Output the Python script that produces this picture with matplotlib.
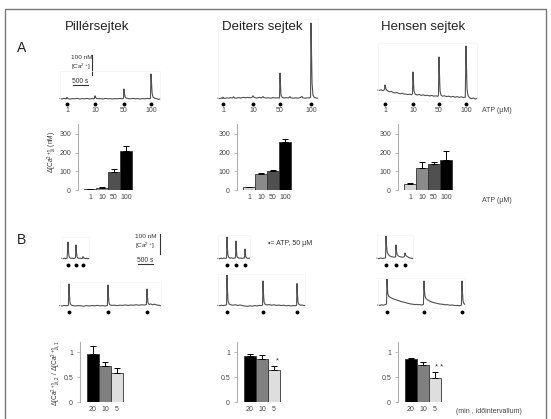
import numpy as np
import matplotlib
matplotlib.use("Agg")
import matplotlib.pyplot as plt

plt.rcParams['font.family'] = ['Liberation Sans', 'DejaVu Sans']
plt.rcParams['mathtext.fontset'] = 'custom'
plt.rcParams['mathtext.rm'] = 'Liberation Sans'
plt.rcParams['mathtext.it'] = 'Liberation Sans:italic'
plt.rcParams['mathtext.bf'] = 'Liberation Sans:bold'

W, H = 551, 419
PX_S = 0.03    # pixels per second in the traces
PX_NM = 0.2    # pixels per nM in the traces

CELLS = ['Pillérsejtek', 'Deiters sejtek', 'Hensen sejtek']
ATP_LABELS = ['1', '10', '50', '100']
INTERVALS = ['20', '10', '5']

# --- A: ATP dose traces (time s, d[Ca] nM) ---
A_PILLER_STIM = [233, 1167, 2133, 3033]
A_PILLER_TRACE = [(0, 2), (60, 0), (120, 3), (180, 1), (215, 2), (233, 8), (250, 4), (280, 1),
                  (340, 0), (420, 2), (500, 1), (580, 3), (660, 0), (740, 2), (820, 1), (900, 3),
                  (980, 0), (1060, 2), (1130, 1), (1150, 3), (1167, 16), (1185, 8), (1215, 3),
                  (1270, 1), (1350, 2), (1430, 0), (1510, 3), (1590, 1), (1670, 2), (1750, 0),
                  (1830, 2), (1910, 1), (1990, 3), (2060, 1), (2115, 3), (2133, 50), (2148, 28),
                  (2170, 10), (2210, 4), (2270, 2), (2350, 1), (2430, 3), (2510, 1), (2590, 2),
                  (2670, 0), (2750, 2), (2830, 1), (2910, 3), (2990, 1), (3015, 4), (3033, 125),
                  (3050, 85), (3070, 30), (3100, 10), (3150, 4), (3220, 2), (3280, -2), (3330, 0)]

A_DEITERS_STIM = [167, 1167, 2067, 3100]
A_DEITERS_TRACE = [(0, 4), (60, 2), (120, 5), (150, 3), (167, 9), (185, 5), (230, 3), (300, 6),
                   (360, 4), (420, 7), (480, 5), (520, 11), (545, 6), (600, 4), (680, 7), (760, 5),
                   (840, 8), (920, 6), (1000, 8), (1080, 6), (1140, 9), (1167, 16), (1190, 10),
                   (1230, 7), (1300, 5), (1380, 8), (1450, 6), (1500, 12), (1525, 7), (1600, 5),
                   (1680, 6), (1760, 4), (1840, 7), (1920, 5), (1990, 6), (2050, 5), (2067, 130),
                   (2082, 70), (2100, 20), (2140, 8), (2200, 5), (2280, 7), (2350, 5), (2400, 12),
                   (2425, 6), (2500, 4), (2580, 6), (2660, 4), (2740, 7), (2800, 13), (2825, 6),
                   (2900, 4), (2980, 6), (3050, 5), (3085, 8), (3100, 380), (3115, 250),
                   (3135, 80), (3165, 20), (3210, 8), (3270, 5), (3330, 4)]

A_HENSEN_STIM = [233, 1167, 2033, 2933]
A_HENSEN_TRACE = [(0, 45), (50, 43), (100, 46), (150, 42), (200, 44), (220, 50), (233, 70),
                  (250, 58), (280, 46), (330, 40), (390, 36), (450, 38), (510, 32), (570, 30),
                  (630, 33), (690, 28), (750, 26), (810, 29), (870, 24), (930, 25), (990, 22),
                  (1050, 24), (1120, 21), (1150, 26), (1167, 135), (1180, 90), (1200, 40),
                  (1240, 24), (1300, 20), (1370, 23), (1440, 18), (1510, 21), (1580, 17),
                  (1650, 19), (1720, 15), (1790, 18), (1860, 14), (1930, 16), (1990, 13),
                  (2015, 18), (2033, 210), (2048, 130), (2068, 40), (2100, 20), (2150, 14),
                  (2220, 16), (2290, 12), (2360, 14), (2430, 10), (2500, 13), (2570, 9),
                  (2640, 12), (2710, 8), (2780, 11), (2850, 7), (2910, 9), (2933, 265),
                  (2948, 170), (2968, 50), (3000, 18), (3050, 6), (3120, 2), (3180, 5),
                  (3240, 0), (3300, 2)]

# --- A: mean amplitudes (nM) ---
A_PILLER = [3, 10, 97, 208]
A_PILLER_ERR = [1, 4, 13, 27]
A_DEITERS = [15, 88, 102, 258]
A_DEITERS_ERR = [2, 5, 6, 17]
A_HENSEN = [30, 117, 138, 163]
A_HENSEN_ERR = [10, 31, 10, 45]

# --- B: repeated 50 uM ATP, 5 min (inset) and 20 min (long) ---
B_PILLER_IN_STIM = [200, 467, 700]
B_PILLER_IN = [(0, 3), (40, 1), (80, 4), (120, 2), (170, 4), (200, 85), (212, 50), (230, 15),
               (260, 6), (300, 3), (340, 5), (380, 2), (420, 4), (450, 6), (467, 70), (480, 40),
               (500, 12), (530, 5), (570, 3), (610, 4), (650, 2), (685, 4), (700, 12), (715, 7),
               (740, 4), (780, 2), (830, 4), (870, 1), (900, 3)]
B_DEITERS_IN_STIM = [300, 600, 900]
B_DEITERS_IN = [(0, 3), (50, 1), (100, 4), (150, 2), (200, 5), (250, 3), (285, 5), (300, 110),
                (312, 60), (330, 20), (360, 8), (400, 4), (450, 6), (500, 3), (550, 5), (585, 6),
                (600, 90), (612, 50), (630, 15), (660, 7), (700, 4), (750, 5), (800, 3), (850, 5),
                (885, 5), (900, 50), (912, 28), (930, 10), (960, 5), (1000, 3), (1050, 4)]
B_HENSEN_IN_STIM = [300, 633, 933]
B_HENSEN_IN = [(0, 4), (60, 2), (120, 5), (180, 3), (240, 4), (285, 6), (300, 115), (315, 70),
               (340, 35), (380, 22), (430, 15), (480, 12), (530, 10), (580, 9), (620, 11),
               (633, 70), (648, 40), (670, 22), (710, 15), (760, 12), (810, 10), (860, 9),
               (910, 11), (933, 30), (950, 22), (980, 15), (1030, 10), (1080, 6), (1130, 4),
               (1200, 3)]

B_PILLER_STIM = [300, 1600, 2900]
B_PILLER_LONG = [(0, 2), (70, 0), (140, 3), (210, 1), (280, 3), (300, 110), (315, 55), (335, 15),
                 (370, 5), (430, 2), (520, 0), (610, 2), (700, 1), (790, -1), (880, 2), (970, 0),
                 (1060, 2), (1150, 1), (1240, 3), (1330, 1), (1420, 2), (1510, 0), (1580, 3),
                 (1600, 105), (1615, 50), (1635, 14), (1670, 5), (1730, 3), (1820, 4), (1910, 2),
                 (2000, 4), (2090, 3), (2180, 5), (2270, 3), (2360, 5), (2450, 4), (2540, 6),
                 (2630, 4), (2720, 6), (2810, 5), (2880, 7), (2900, 85), (2915, 45), (2935, 15),
                 (2970, 8), (3030, 10), (3090, 6), (3150, 9), (3220, 5), (3290, 4), (3350, 2)]
B_DEITERS_STIM = [300, 1500, 2633]
B_DEITERS_LONG = [(0, 3), (60, 1), (120, 4), (180, 2), (240, 4), (285, 6), (300, 155), (315, 80),
                  (335, 25), (370, 10), (430, 6), (500, 4), (580, 6), (660, 3), (740, 5),
                  (820, 2), (900, 0), (980, -2), (1060, 1), (1140, -1), (1220, 2), (1300, 0),
                  (1380, 3), (1450, 2), (1485, 5), (1500, 125), (1515, 65), (1535, 20),
                  (1570, 9), (1630, 5), (1710, 7), (1790, 4), (1870, 6), (1950, 3), (2030, 5),
                  (2110, 2), (2190, 4), (2270, 1), (2350, 3), (2430, 0), (2510, 2), (2580, 1),
                  (2620, 4), (2633, 112), (2648, 60), (2668, 18), (2700, 8), (2750, 4),
                  (2810, 5), (2860, 2), (2900, 3)]
B_HENSEN_STIM = [300, 1533, 2800]
B_HENSEN_LONG = [(0, 5), (60, 3), (120, 6), (180, 4), (240, 7), (285, 10), (300, 135), (312, 95),
                 (330, 60), (360, 48), (400, 44), (450, 40), (500, 36), (560, 33), (620, 30),
                 (680, 27), (740, 24), (800, 21), (860, 19), (920, 17), (980, 14), (1040, 12),
                 (1100, 10), (1160, 9), (1220, 7), (1280, 8), (1340, 6), (1400, 7), (1460, 5),
                 (1515, 8), (1533, 125), (1545, 85), (1565, 50), (1595, 38), (1640, 32),
                 (1700, 27), (1760, 22), (1820, 19), (1880, 16), (1940, 14), (2000, 12),
                 (2060, 10), (2120, 9), (2180, 8), (2240, 6), (2300, 7), (2360, 5), (2420, 4),
                 (2480, 5), (2540, 3), (2600, 2), (2660, 3), (2720, 1), (2780, 4), (2800, 125),
                 (2815, 70), (2835, 25), (2865, 12), (2900, 8)]

# --- B: ratio of second to first response ---
B_PILLER = [0.97, 0.72, 0.59]
B_PILLER_ERR = [0.16, 0.08, 0.09]
B_DEITERS = [0.93, 0.87, 0.65]
B_DEITERS_ERR = [0.03, 0.07, 0.07]
B_HENSEN = [0.86, 0.74, 0.49]
B_HENSEN_ERR = [0.03, 0.07, 0.11]
B_SIG = [['', '', ''], ['', '', '*'], ['', '', '* *']]

A_COLORS = ['#d4d4d4', '#8a8a8a', '#505050', '#000000']
B_COLORS = ['#000000', '#808080', '#dedede']
TRACE_COLOR = '#505050'
TICK_COLOR = '#444444'

fig = plt.figure(figsize=(W / 100, H / 100), dpi=100)
ax0 = fig.add_axes([0, 0, 1, 1])
ax0.set_xlim(0, W)
ax0.set_ylim(H, 0)
ax0.axis('off')

# outer frame
ax0.plot([5, 5, 546, 546], [430, 9, 9, 430], color='#7a7a7a', lw=1.0)

for cx, name in zip([97, 262, 423], CELLS):
    ax0.text(cx, 27, name, fontsize=9.5, ha='center', va='center', color='#222222')
ax0.text(22, 48, 'A', fontsize=10, ha='center', va='center', color='#222222')
ax0.text(22, 240, 'B', fontsize=10, ha='center', va='center', color='#222222')


def trace_axes(x0, yb, tmax, vmin, vmax):
    top = yb - vmax * PX_NM
    bot = yb - vmin * PX_NM
    ax = fig.add_axes([x0 / W, 1 - bot / H, tmax * PX_S / W, (bot - top) / H])
    ax.set_xlim(0, tmax)
    ax.set_ylim(vmin, vmax)
    ax.set_facecolor('none')
    ax.set_xticks([])
    ax.set_yticks([])
    for s in ax.spines.values():
        s.set_color('#f3f3f3')
        s.set_linewidth(0.5)
    return ax


def draw_trace(ax, pts, stim, dot_v, labels=None, lab_v=None):
    arr = np.array(pts, dtype=float)
    ax.plot(arr[:, 0], arr[:, 1], color=TRACE_COLOR, lw=0.8, clip_on=False)
    ax.plot(stim, [dot_v] * len(stim), 'o', color='k', ms=1.8, clip_on=False)
    if labels is not None:
        for t, lab in zip(stim, labels):
            ax.text(t, lab_v, lab, fontsize=5, ha='center', va='center', color=TICK_COLOR)


# A traces
axp = trace_axes(60, 99, 3330, -10, 140)
draw_trace(axp, A_PILLER_TRACE, A_PILLER_STIM, -25, ATP_LABELS, -55)
axd = trace_axes(218, 99, 3330, -10, 400)
draw_trace(axd, A_DEITERS_TRACE, A_DEITERS_STIM, -25, ATP_LABELS, -55)
axh = trace_axes(378, 99, 3300, -10, 280)
draw_trace(axh, A_HENSEN_TRACE, A_HENSEN_STIM, -25, ATP_LABELS, -55)
ax0.text(482, 110, 'ATP (µM)', fontsize=5, ha='left', va='center', color=TICK_COLOR)

# scale bars A (100 nM, 500 s)
axp.plot([1050, 1050], [120, 220], color='#333333', lw=0.8, clip_on=False)
axp.text(370, 208, '100 nM', fontsize=4.6, ha='left', va='center', color='#333333')
axp.text(370, 162, '[Ca$^{2+}$]', fontsize=4.6, ha='left', va='center', color='#333333')
axp.plot([430, 930], [68, 68], color='#333333', lw=0.8, clip_on=False)
axp.text(680, 88, '500 s', fontsize=4.8, ha='center', va='center', color='#333333')

# B insets and long traces
axpi = trace_axes(62, 259, 900, -10, 110)
draw_trace(axpi, B_PILLER_IN, B_PILLER_IN_STIM, -30)
axdi = trace_axes(218, 259, 1050, -10, 120)
draw_trace(axdi, B_DEITERS_IN, B_DEITERS_IN_STIM, -30)
axhi = trace_axes(377, 259, 1200, -10, 120)
draw_trace(axhi, B_HENSEN_IN, B_HENSEN_IN_STIM, -30)

axpl = trace_axes(60, 306, 3350, -10, 120)
draw_trace(axpl, B_PILLER_LONG, B_PILLER_STIM, -32)
axdl = trace_axes(218, 306, 2900, -10, 160)
draw_trace(axdl, B_DEITERS_LONG, B_DEITERS_STIM, -32)
axhl = trace_axes(378, 306, 2900, -10, 140)
draw_trace(axhl, B_HENSEN_LONG, B_HENSEN_STIM, -32)

# scale bars B
axpi.plot([3270, 3270], [25, 125], color='#333333', lw=0.8, clip_on=False)
axpi.text(2430, 112, '100 nM', fontsize=4.6, ha='left', va='center', color='#333333')
axpi.text(2430, 66, '[Ca$^{2+}$]', fontsize=4.6, ha='left', va='center', color='#333333')
axpi.plot([2520, 3020], [-25, -25], color='#333333', lw=0.8, clip_on=False)
axpi.text(2770, -5, '500 s', fontsize=4.8, ha='center', va='center', color='#333333')
ax0.text(268, 243, '•= ATP, 50 µM', fontsize=5, ha='left', va='center', color='#333333')


def bar_panel(x_axis, y_zero, px_unit, ytop, ticks, ticklabels, vals, errs, colors,
              xlabels, gap, sig=None):
    n = len(vals)
    bw = 12.0
    width_px = gap + n * bw + 3
    top_px = y_zero - ytop * px_unit
    ax = fig.add_axes([x_axis / W, 1 - y_zero / H, width_px / W, (y_zero - top_px) / H])
    x = np.arange(n)
    ax.bar(x, vals, width=1.0, color=colors, edgecolor='#333333', linewidth=0.6,
           yerr=[np.zeros(n), errs],
           error_kw=dict(ecolor='k', elinewidth=0.7, capsize=2, capthick=0.7))
    xl = -0.5 - gap / bw
    ax.set_xlim(xl, xl + width_px / bw)
    ax.set_ylim(0, ytop)
    ax.set_facecolor('none')
    ax.set_yticks(ticks)
    ax.set_yticklabels(ticklabels)
    ax.set_xticks(x)
    ax.set_xticklabels(xlabels)
    for s in ['top', 'right', 'bottom']:
        ax.spines[s].set_visible(False)
    ax.spines['left'].set_color('#b0b0b0')
    ax.spines['left'].set_linewidth(0.8)
    ax.tick_params(axis='y', length=2, width=0.6, color='#b0b0b0', labelsize=5,
                   labelcolor=TICK_COLOR, pad=3)
    ax.tick_params(axis='x', length=0, labelsize=5, labelcolor=TICK_COLOR, pad=3)
    if sig is not None:
        for i, s in enumerate(sig):
            if s:
                ax.text(i + 0.3, vals[i] + errs[i] + 0.1, s, fontsize=5.5, ha='center',
                        va='center', color='#333333')
    return ax


A_TICKS = [0, 100, 200, 300]
for xa, v, e in [(78, A_PILLER, A_PILLER_ERR), (237, A_DEITERS, A_DEITERS_ERR),
                 (398, A_HENSEN, A_HENSEN_ERR)]:
    bar_panel(xa, 190, 56 / 300, 355, A_TICKS, [str(t) for t in A_TICKS], v, e, A_COLORS,
              ATP_LABELS, 6)
ax0.text(482, 200, 'ATP (µM)', fontsize=5, ha='left', va='center', color=TICK_COLOR)
ax0.text(52, 152, r'$\Delta$[Ca$^{2+}$]$_{\rm i}$ (nM)', fontsize=4.8, rotation=90,
         ha='center', va='center', color='#333333')

B_TICKS = [0, 0.5, 1]
for xa, v, e, s in [(80, B_PILLER, B_PILLER_ERR, B_SIG[0]), (237, B_DEITERS, B_DEITERS_ERR, B_SIG[1]),
                    (398, B_HENSEN, B_HENSEN_ERR, B_SIG[2])]:
    bar_panel(xa, 402, 50, 1.2, B_TICKS, ['0', '0.5', '1'], v, e, B_COLORS, INTERVALS, 7, s)
ax0.text(456, 411, '(min , időintervallum)', fontsize=5, ha='left', va='center', color=TICK_COLOR)
ax0.text(56, 373, r'$\Delta$[Ca$^{2+}$]$_{\rm i,2}$ / $\Delta$[Ca$^{2+}$]$_{\rm i,1}$',
         fontsize=4.8, rotation=90, ha='center', va='center', color='#333333')

fig.savefig('out.png', dpi=100)
